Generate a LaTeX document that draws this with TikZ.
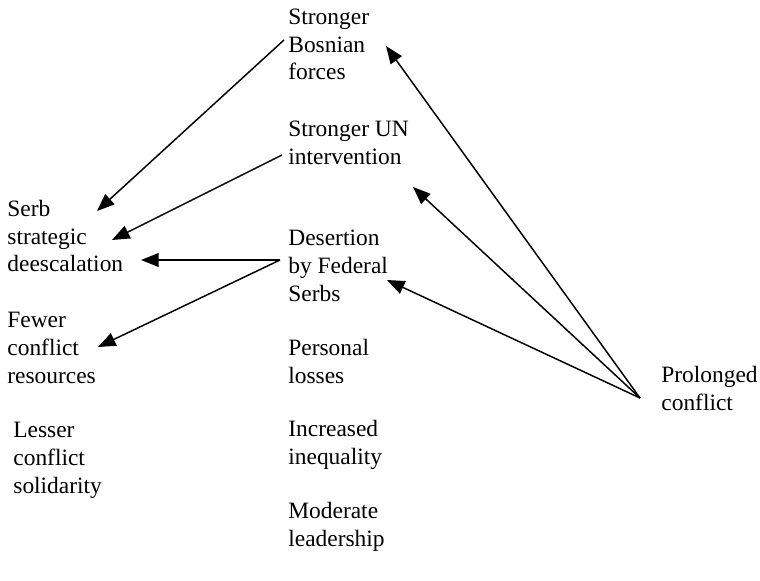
\documentclass[tikz,border=0pt]{standalone}
\usepackage{fontspec}
\setmainfont{Liberation Serif}
\usetikzlibrary{arrows.meta}

\begin{document}
\begin{tikzpicture}[x=0.018cm,y=-0.018cm,
  lbl/.style={anchor=base west,align=left,inner sep=0pt,
    font=\fontsize{12}{14.1}\selectfont},
  link/.style={-{Triangle[length=9pt,width=7pt]},line width=0.75pt}]
  \useasboundingbox (0,0) rectangle (760,581);
  % left column (placed at baseline of last line)
  \node[lbl] (serb) at (7,272) {Serb\\strategic\\deescalation};
  \node[lbl] (fewer) at (7,383) {Fewer\\conflict\\resources};
  \node[lbl] (lesser) at (13,493) {Lesser\\conflict\\solidarity};
  % middle column
  \node[lbl] (bosnian) at (288,80) {Stronger\\Bosnian\\forces};
  \node[lbl] (un) at (288,164.5) {Stronger UN\\intervention};
  \node[lbl] (desert) at (288,301) {Desertion\\by Federal\\Serbs};
  \node[lbl] (losses) at (288,383.5) {Personal\\losses};
  \node[lbl] (ineq) at (288,464.5) {Increased\\inequality};
  \node[lbl] (lead) at (288,546.5) {Moderate\\leadership};
  % right
  \node[lbl] (prolong) at (661,410) {Prolonged\\conflict};
  % arrow ends
  \coordinate (bosnianout) at (284,40);
  \coordinate (unout) at (282,155);
  \coordinate (desertout) at (280,260);
  \coordinate (prolongout) at (640,398);
  \coordinate (serbin1) at (97,211);
  \coordinate (serbin2) at (112,240);
  \coordinate (serbin3) at (141,260);
  \coordinate (fewerin) at (98,347);
  \coordinate (bosnianin) at (386,46);
  \coordinate (unin) at (413,187);
  \coordinate (desertin) at (387,280);
  \draw[link] (bosnianout) -- (serbin1);
  \draw[link] (unout) -- (serbin2);
  \draw[link] (desertout) -- (serbin3);
  \draw[link] (desertout) -- (fewerin);
  \draw[link] (prolongout) -- (bosnianin);
  \draw[link] (prolongout) -- (unin);
  \draw[link] (prolongout) -- (desertin);
\end{tikzpicture}
\end{document}
